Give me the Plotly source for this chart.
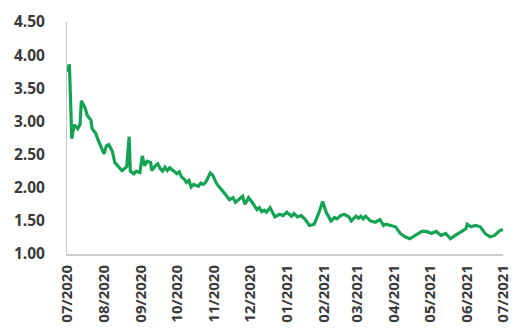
import plotly.graph_objects as go

# Daily closing level, Jul 2020 - Jul 2021
dates = [
    "2020-07-01", "2020-07-02", "2020-07-03", "2020-07-05", "2020-07-07", "2020-07-10",
    "2020-07-12", "2020-07-13", "2020-07-16", "2020-07-18", "2020-07-21", "2020-07-22",
    "2020-07-25", "2020-07-27", "2020-07-30", "2020-08-01", "2020-08-03", "2020-08-05",
    "2020-08-08", "2020-08-10", "2020-08-14", "2020-08-16", "2020-08-19", "2020-08-20",
    "2020-08-22", "2020-08-23", "2020-08-26", "2020-08-28", "2020-08-31", "2020-09-02",
    "2020-09-04", "2020-09-06", "2020-09-09", "2020-09-10", "2020-09-13", "2020-09-15",
    "2020-09-17", "2020-09-19", "2020-09-21", "2020-09-23", "2020-09-25", "2020-09-28",
    "2020-10-01", "2020-10-03", "2020-10-05", "2020-10-07", "2020-10-09", "2020-10-11",
    "2020-10-13", "2020-10-15", "2020-10-17", "2020-10-19", "2020-10-21", "2020-10-23",
    "2020-10-25", "2020-10-29", "2020-10-31", "2020-11-03", "2020-11-05", "2020-11-07",
    "2020-11-09", "2020-11-11", "2020-11-14", "2020-11-17", "2020-11-19", "2020-11-22",
    "2020-11-25", "2020-11-27", "2020-11-30", "2020-12-03", "2020-12-07", "2020-12-09",
    "2020-12-11", "2020-12-13", "2020-12-15", "2020-12-18", "2020-12-22", "2020-12-26",
    "2020-12-29", "2021-01-01", "2021-01-05", "2021-01-07", "2021-01-10", "2021-01-13",
    "2021-01-16", "2021-01-20", "2021-01-24", "2021-01-28", "2021-01-31", "2021-02-03",
    "2021-02-07", "2021-02-10", "2021-02-12", "2021-02-15", "2021-02-18", "2021-02-22",
    "2021-02-24", "2021-02-28", "2021-03-02", "2021-03-04", "2021-03-06", "2021-03-08",
    "2021-03-12", "2021-03-16", "2021-03-20", "2021-03-23", "2021-03-25", "2021-03-29",
    "2021-04-02", "2021-04-06", "2021-04-10", "2021-04-14", "2021-04-19", "2021-04-22",
    "2021-04-24", "2021-04-28", "2021-05-02", "2021-05-06", "2021-05-10", "2021-05-14",
    "2021-05-18", "2021-05-22", "2021-05-27", "2021-05-31", "2021-06-01", "2021-06-04",
    "2021-06-08", "2021-06-12", "2021-06-16", "2021-06-20", "2021-06-24", "2021-06-28",
    "2021-07-01",
]
values = [
    3.75, 3.83, 3.86, 2.74, 2.95, 2.89,
    2.96, 3.31, 3.21, 3.09, 3.02, 2.89,
    2.82, 2.72, 2.58, 2.51, 2.63, 2.65,
    2.55, 2.38, 2.30, 2.26, 2.30, 2.32,
    2.77, 2.25, 2.21, 2.25, 2.23, 2.48,
    2.33, 2.40, 2.38, 2.26, 2.33, 2.36,
    2.29, 2.25, 2.31, 2.26, 2.30, 2.25,
    2.21, 2.24, 2.16, 2.13, 2.08, 2.11,
    2.01, 2.05, 2.04, 2.02, 2.07, 2.05,
    2.08, 2.22, 2.19, 2.07, 2.02, 1.97,
    1.93, 1.89, 1.82, 1.85, 1.78, 1.82,
    1.87, 1.75, 1.85, 1.78, 1.67, 1.70,
    1.64, 1.66, 1.63, 1.70, 1.56, 1.60,
    1.58, 1.63, 1.57, 1.61, 1.56, 1.58,
    1.53, 1.43, 1.45, 1.63, 1.79, 1.63,
    1.50, 1.55, 1.53, 1.58, 1.60, 1.56,
    1.50, 1.57, 1.54, 1.57, 1.53, 1.57,
    1.50, 1.48, 1.52, 1.43, 1.45, 1.43,
    1.41, 1.31, 1.26, 1.23, 1.28, 1.31,
    1.34, 1.34, 1.31, 1.34, 1.28, 1.31,
    1.23, 1.28, 1.34, 1.38, 1.45, 1.41,
    1.43, 1.41, 1.31, 1.26, 1.28, 1.35,
    1.37,
]

month_ticks = [
    "2020-07-01", "2020-08-01", "2020-09-01", "2020-10-01", "2020-11-01", "2020-12-01",
    "2021-01-01", "2021-02-01", "2021-03-01", "2021-04-01", "2021-05-01", "2021-06-01",
    "2021-07-01",
]
month_labels = [
    "07/2020", "08/2020", "09/2020", "10/2020", "11/2020", "12/2020",
    "01/2021", "02/2021", "03/2021", "04/2021", "05/2021", "06/2021", "07/2021",
]
y_ticks = [1.0, 1.5, 2.0, 2.5, 3.0, 3.5, 4.0, 4.5]

fig = go.Figure(
    go.Scatter(
        x=dates,
        y=values,
        mode="lines",
        line=dict(color="#14a254", width=3.2),
        hoverinfo="x+y",
    )
)

y_font = dict(family="Open Sans", size=15.5, color="#3a3a3a", weight="bold")
x_font = dict(family="Open Sans", size=15, color="#3a3a3a", weight="bold")

fig.update_layout(
    width=522,
    height=333,
    margin=dict(l=67, r=10, t=17, b=77),
    paper_bgcolor="white",
    plot_bgcolor="white",
    showlegend=False,
    xaxis=dict(
        range=["2020-07-01", "2021-07-01"],
        tickmode="array",
        tickvals=month_ticks,
        ticktext=month_labels,
        tickangle=-90,
        tickfont=x_font,
        showgrid=False,
        zeroline=False,
        showline=True,
        linecolor="#cccccc",
        linewidth=2,
        ticks="",
        ticklabelstandoff=3,
    ),
    yaxis=dict(
        range=[1.0, 4.5],
        tickmode="array",
        tickvals=y_ticks,
        ticktext=[f"{v:.2f}" for v in y_ticks],
        tickfont=y_font,
        showgrid=False,
        zeroline=False,
        showline=True,
        linecolor="#c8c8c8",
        linewidth=1,
        ticks="",
        ticklabelstandoff=18,
    ),
)

fig.write_html("out.html")
